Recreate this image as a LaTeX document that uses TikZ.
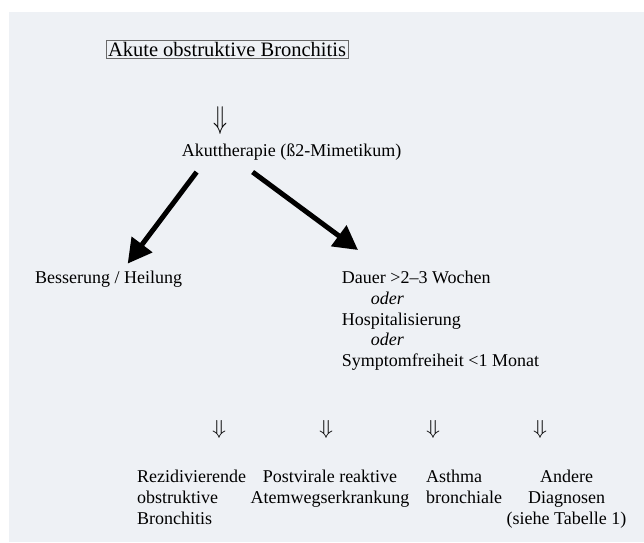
\documentclass[tikz,border=0pt]{standalone}
\usepackage{graphicx}
\usepackage{fontspec}
\setmainfont{Liberation Serif}
\usetikzlibrary{arrows.meta}

\definecolor{paper}{RGB}{238,241,245}
\definecolor{boxline}{RGB}{105,105,105}
\newcommand{\dnarr}[1]{\resizebox*{14pt}{#1}{$\Downarrow$}}
\tikzset{
  txt/.style={inner sep=0pt, font=\fontsize{18}{20.8}\selectfont},
  fat/.style={line width=5pt, -{Triangle[length=24pt,width=25pt]}}
}

\begin{document}
\begin{tikzpicture}[x=1pt,y=-1pt]
  \useasboundingbox (0,0) rectangle (644,542);
  \fill[paper] (9,12) rectangle (644,542);

  \node[draw=boxline, line width=0.8pt, inner sep=2pt,
        font=\fontsize{20.5}{22}\selectfont] (top) at (227,49.5) {Akute obstruktive Bronchitis};
  \node[inner sep=0pt] (d0) at (220,121) {\dnarr{28pt}};
  \node[txt, anchor=base west] (therapy) at (181.7,156) {Akuttherapie (ß2-Mimetikum)};

  \node[txt, anchor=base west] (besser) at (35,283) {Besserung / Heilung};
  \node[txt, anchor=north west, align=left] (dauer) at (341.7,270.7)
    {Dauer >2--3 Wochen\\ \hspace*{29pt}\textit{oder}\\ Hospitalisierung\\
     \hspace*{29pt}\textit{oder}\\ Symptomfreiheit <1 Monat};

  \draw[fat] ([xshift=-95pt,yshift=-12pt]therapy.south) -- ([xshift=19pt,yshift=6.7pt]besser.north);
  \draw[fat] ([xshift=-39pt,yshift=-12pt]therapy.south) -- ([xshift=16.3pt,yshift=20.7pt]dauer.north west);

  % untere Reihe
  \node[inner sep=0pt] (d1) at (219,429) {\dnarr{18pt}};
  \node[inner sep=0pt] (d2) at (326,429) {\dnarr{18pt}};
  \node[inner sep=0pt] (d3) at (433,429) {\dnarr{18pt}};
  \node[inner sep=0pt] (d4) at (540,429) {\dnarr{18pt}};

  \node[txt, anchor=north west, align=left] (rezid) at (137,469.7) {Rezidivierende\\obstruktive\\Bronchitis};
  \node[txt, anchor=north, align=center] (postv) at (330,469.7) {Postvirale reaktive\\Atemwegserkrankung};
  \node[txt, anchor=north west, align=left] (asthma) at (426,469.7) {Asthma\\bronchiale};
  \node[txt, anchor=north, align=center] (andere) at (566.5,469.7) {Andere\\Diagnosen\\(siehe Tabelle 1)};
\end{tikzpicture}
\end{document}
